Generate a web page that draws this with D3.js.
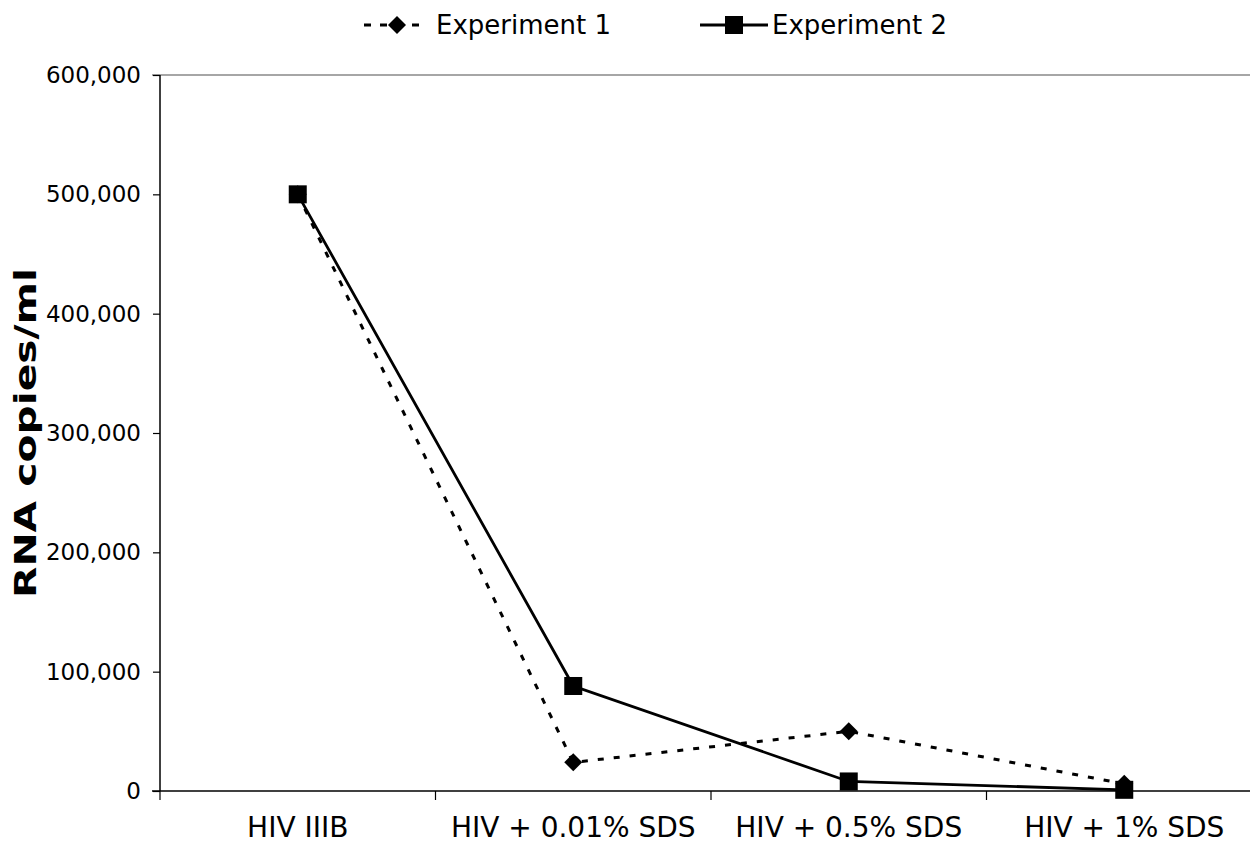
<!DOCTYPE html>
<html><head><meta charset="utf-8">
<script src="https://cdn.jsdelivr.net/npm/d3@7"></script>
<style>body{margin:0;background:#fff}svg{display:block;font-family:"DejaVu Sans",Verdana,sans-serif}</style>
</head><body><svg id="c" width="1250" height="844"></svg>
<script>
const categories = ["HIV IIIB", "HIV + 0.01% SDS", "HIV + 0.5% SDS", "HIV + 1% SDS"];
const exp1 = [500000, 24000, 50000, 6000];
const exp2 = [500000, 88000, 8000, 1000];
const yTicks = [0, 100000, 200000, 300000, 400000, 500000, 600000];
const seriesNames = ["Experiment 1", "Experiment 2"];

const svg = d3.select("#c");
const x = d3.scaleBand().domain(categories).range([160, 1262]);
const y = d3.scaleLinear().domain([0, 600000]).range([791, 75]);
const fmt = d3.format(",");

// top border
svg.append("line").attr("x1",152).attr("x2",1250).attr("y1",y(600000)).attr("y2",y(600000)).attr("stroke","#a6a6a6").attr("stroke-width",2);

const yAxis = svg.append("g").attr("transform","translate(160,0)")
  .call(d3.axisLeft(y).tickValues(yTicks).tickFormat(fmt).tickSize(7).tickPadding(12));
yAxis.select(".domain").attr("stroke","#000").attr("stroke-width",1.5).attr("d","M0,75V791");
yAxis.selectAll("text").attr("font-size",23).attr("fill","#000").attr("font-family","DejaVu Sans");
yAxis.selectAll(".tick line").attr("stroke","#000").attr("stroke-width",1.2);

const xAxis = svg.append("g").attr("transform","translate(0,791)")
  .call(d3.axisBottom(x).tickSize(0));
xAxis.select(".domain").remove();
xAxis.append("line").attr("x1",152).attr("x2",1250).attr("y1",0).attr("y2",0).attr("stroke","#000").attr("stroke-width",1.5);
xAxis.selectAll("text").attr("font-size",28).attr("fill","#000").attr("font-family","DejaVu Sans")
  .attr("y",46).attr("dy",0);
// category boundary ticks
categories.forEach(c => {
  xAxis.append("line").attr("x1",x(c)).attr("x2",x(c)).attr("y1",0).attr("y2",9).attr("stroke","#000").attr("stroke-width",1.2);
});

svg.append("text").attr("transform","translate(36,433) rotate(-90)").attr("text-anchor","middle")
  .attr("font-size",30).attr("font-weight","bold")
  .attr("textLength",330).attr("lengthAdjust","spacingAndGlyphs").text("RNA copies/ml");

const cx = c => x(c) + x.bandwidth()/2;
const line = d3.line().x((d,i)=>cx(categories[i])).y(d=>y(d));

svg.append("path").datum(exp1).attr("d",line).attr("fill","none").attr("stroke","#000")
  .attr("stroke-width",3).attr("stroke-dasharray","6,10");
svg.append("path").datum(exp2).attr("d",line).attr("fill","none").attr("stroke","#000").attr("stroke-width",2.8);

const diamond = (g, px, py, r) => g.append("path").attr("d",`M${px},${py-r}L${px+r},${py}L${px},${py+r}L${px-r},${py}Z`).attr("fill","#000");
exp1.forEach((v,i)=>diamond(svg, cx(categories[i]), y(v), 9));
exp2.forEach((v,i)=>svg.append("rect").attr("x",cx(categories[i])-9).attr("y",y(v)-9).attr("width",18).attr("height",18).attr("fill","#000"));

// legend
const lg = svg.append("g");
lg.append("line").attr("x1",364).attr("x2",426).attr("y1",25).attr("y2",25).attr("stroke","#000").attr("stroke-width",3).attr("stroke-dasharray","7,9");
diamond(lg, 397, 25, 9);
lg.append("text").attr("x",436).attr("y",34).attr("font-size",26).text(seriesNames[0]);
lg.append("line").attr("x1",700).attr("x2",768).attr("y1",25).attr("y2",25).attr("stroke","#000").attr("stroke-width",2.8);
lg.append("rect").attr("x",725).attr("y",16).attr("width",18).attr("height",18).attr("fill","#000");
lg.append("text").attr("x",772).attr("y",34).attr("font-size",26).text(seriesNames[1]);
</script></body></html>
